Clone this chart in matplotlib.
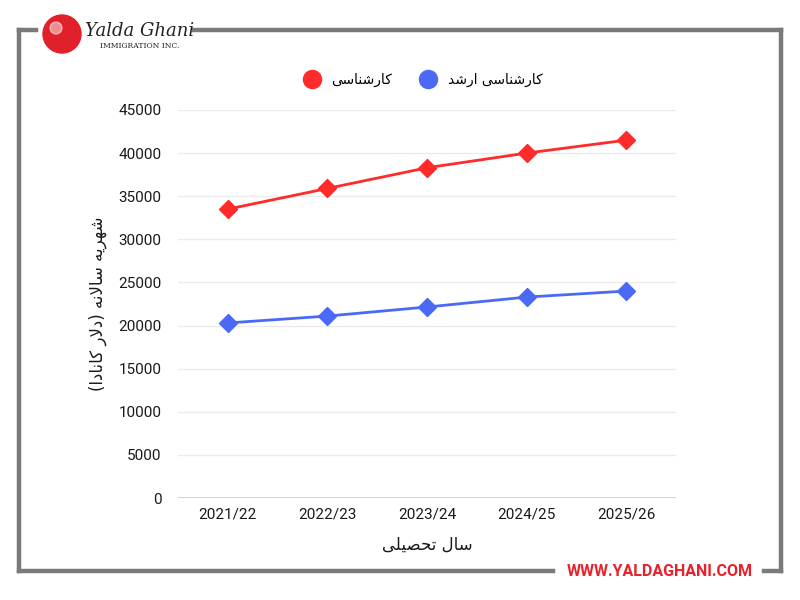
import matplotlib.pyplot as plt
from matplotlib.patches import Circle

# data
years = ['2021/22', '2022/23', '2023/24', '2024/25', '2025/26']
bachelor = [33500, 35900, 38300, 40000, 41500]
master = [20300, 21100, 22150, 23300, 24000]
yticks = [0, 5000, 10000, 15000, 20000, 25000, 30000, 35000, 40000, 45000]

label_bachelor = 'کارشناسی'
label_master = 'کارشناسی ارشد'
xtitle = 'سال تحصیلی'
ytitle = 'شهریه سالانه (دلار کانادا)'

# minimal Persian shaping (matplotlib has no bidi / joining)
FORMS = {  # isolated, final, initial, medial
    'ا': ('\uFE8D', '\uFE8E', None, None),
    'ر': ('\uFEAD', '\uFEAE', None, None),
    'د': ('\uFEA9', '\uFEAA', None, None),
    'ش': ('\uFEB5', '\uFEB6', '\uFEB7', '\uFEB8'),
    'س': ('\uFEB1', '\uFEB2', '\uFEB3', '\uFEB4'),
    'ن': ('\uFEE5', '\uFEE6', '\uFEE7', '\uFEE8'),
    'ه': ('\uFEE9', '\uFEEA', '\uFEEB', '\uFEEC'),
    'ل': ('\uFEDD', '\uFEDE', '\uFEDF', '\uFEE0'),
    'ت': ('\uFE95', '\uFE96', '\uFE97', '\uFE98'),
    'ح': ('\uFEA1', '\uFEA2', '\uFEA3', '\uFEA4'),
    'ص': ('\uFEB9', '\uFEBA', '\uFEBB', '\uFEBC'),
    'ک': ('\uFB8E', '\uFB8F', '\uFB90', '\uFB91'),
    'ی': ('\uFBFC', '\uFBFD', '\uFBFE', '\uFBFF'),
}


def dual(c):
    return c in FORMS and FORMS[c][2] is not None


def shape(text):
    out = []
    i = 0
    while i < len(text):
        c = text[i]
        if c not in FORMS:
            out.append(c)
            i += 1
            continue
        prev = text[i - 1] if i > 0 else ''
        joins_prev = dual(prev)
        # lam-alef ligature
        if c == 'ل' and i + 1 < len(text) and text[i + 1] == 'ا':
            out.append('\uFEFC' if joins_prev else '\uFEFB')
            i += 2
            continue
        nxt = text[i + 1] if i + 1 < len(text) else ''
        joins_next = dual(c) and nxt in FORMS
        iso, fin, ini, med = FORMS[c]
        if joins_prev and joins_next:
            out.append(med)
        elif joins_prev:
            out.append(fin)
        elif joins_next:
            out.append(ini)
        else:
            out.append(iso)
        i += 1
    vis = ''.join(out)[::-1]
    return vis.translate(str.maketrans('()', ')('))


fa_font = ['DejaVu Sans']
plt.rcParams['font.family'] = ['Roboto', 'DejaVu Sans']

red = '#ff2a2a'
blue = '#4a6af5'

fig = plt.figure(figsize=(8, 6), dpi=100)

# decoration layer in pixel coordinates
deco = fig.add_axes([0, 0, 1, 1], zorder=0)
deco.set_xlim(0, 800)
deco.set_ylim(600, 0)
deco.axis('off')
frame = dict(color='#7a7a7a', lw=3.2, solid_capstyle='projecting')
deco.plot([19, 36], [30, 30], **frame)
deco.plot([194, 781], [30, 30], **frame)
deco.plot([19, 19], [30, 571], **frame)
deco.plot([781, 781], [30, 571], **frame)
deco.plot([19, 553], [571, 571], **frame)
deco.plot([764, 781], [571, 571], **frame)
deco.text(660, 571, 'WWW.YALDAGHANI.COM', color='#e8212b', fontsize=11.5,
          fontweight='bold', ha='center', va='center', family=['Roboto'])
# logo
deco.add_patch(Circle((62, 34), 19, color='#e0202a'))
deco.add_patch(Circle((56, 28), 6, color='white', alpha=0.5))
deco.text(140, 31, 'Yalda Ghani', fontsize=13, style='italic', color='#222222',
          ha='center', va='center', family=['DejaVu Serif'])
deco.text(140, 46, 'IMMIGRATION INC.', fontsize=5.5, color='#222222',
          ha='center', va='center', family=['DejaVu Serif'])

ax = fig.add_axes([0.2225, 0.17, 0.6225, 0.6467], zorder=1)
ax.patch.set_alpha(0)
x = range(len(years))
ax.plot(x, bachelor, color=red, lw=2, marker='D', markersize=9,
        label=shape(label_bachelor), zorder=3)
ax.plot(x, master, color=blue, lw=2, marker='D', markersize=9,
        label=shape(label_master), zorder=3)

ax.set_xlim(-0.5, len(years) - 0.5)
ax.set_ylim(0, 45000)
ax.set_yticks(yticks)
ax.set_xticks(list(x))
ax.set_xticklabels(years)
ax.grid(axis='y', color='#ebebeb', lw=1)
ax.axhline(0, color='#cccccc', lw=1.2)
for s in ax.spines.values():
    s.set_visible(False)
ax.tick_params(length=0, labelsize=11, colors='#1a1a1a')
ax.tick_params(axis='x', pad=7)
ax.tick_params(axis='y', pad=12)

ax.set_xlabel(shape(xtitle), fontsize=12, family=fa_font, labelpad=10,
              color='#1a1a1a')
ax.set_ylabel(shape(ytitle), fontsize=12, family=fa_font, labelpad=8,
              color='#1a1a1a')

leg = ax.legend(loc='center', bbox_to_anchor=(0.5, 1.077), ncol=2,
                frameon=False, prop={'family': fa_font, 'size': 10},
                handlelength=0, handletextpad=1.4, columnspacing=2.6,
                markerscale=1)
for h, c in zip(leg.legend_handles, [red, blue]):
    h.set_marker('o')
    h.set_markersize(13)
    h.set_color(c)

fig.savefig('out.png', dpi=100)
